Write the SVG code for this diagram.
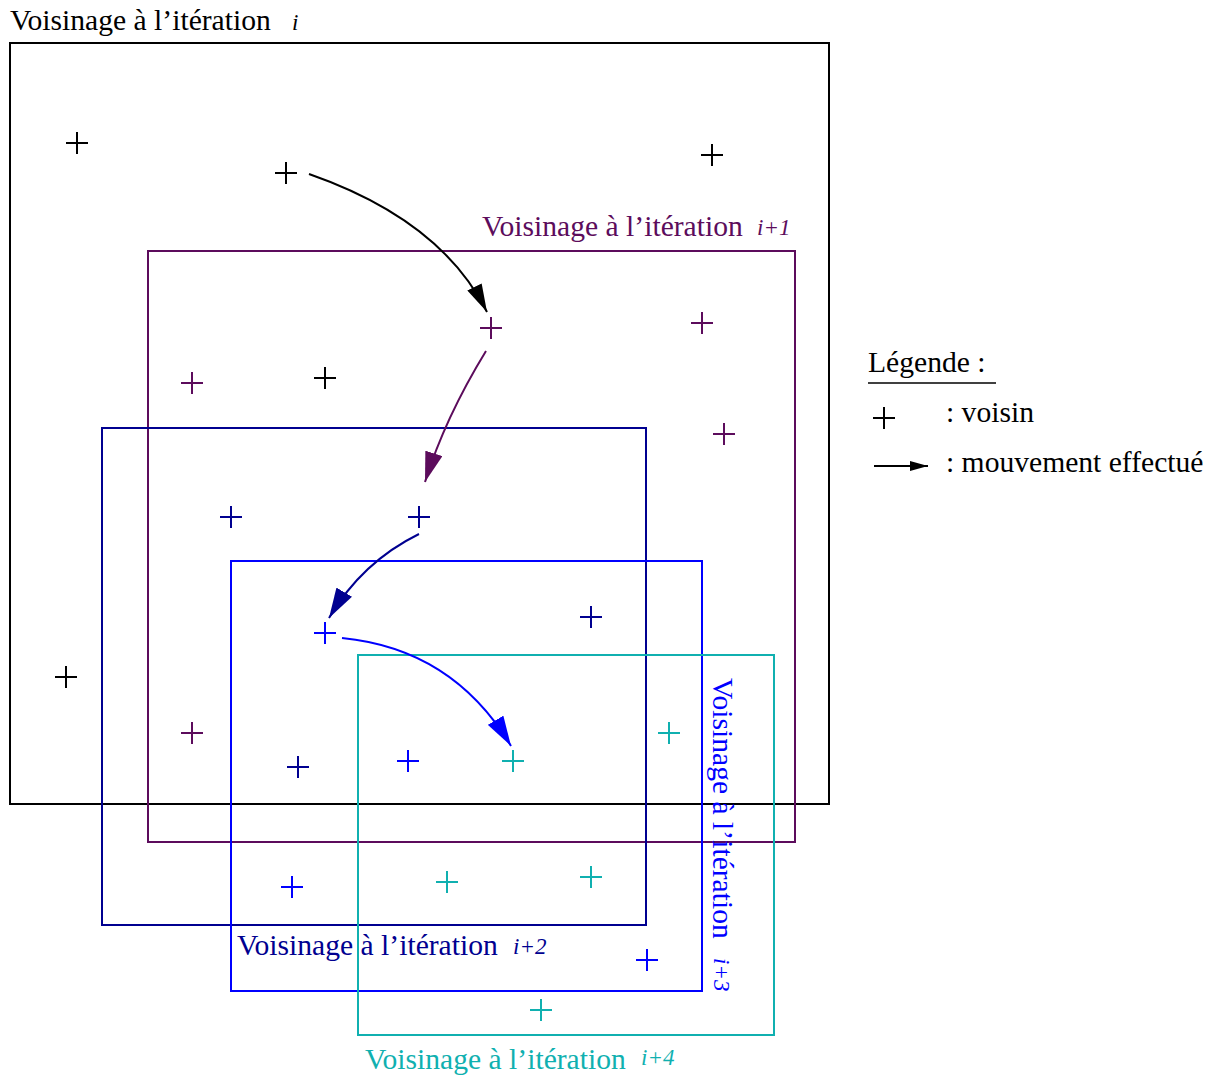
<svg xmlns="http://www.w3.org/2000/svg" width="1210" height="1079" viewBox="0 0 1210 1079">
<style>
text{font-family:"Liberation Serif","Times New Roman",serif;font-size:29.6px}
.it{font-style:italic;font-size:23px}
.box{fill:none;stroke-width:2}
.cr{stroke-width:2;fill:none}
.k{stroke:#000}.p{stroke:#5c0c5c}.n{stroke:#000090}.b{stroke:#0000ff}.c{stroke:#10b0b0}
.arr{fill:none;stroke-width:2}
</style>
<defs>
<path id="x" d="M-11 0H11M0 -11V11"/>
<marker id="mk" markerUnits="userSpaceOnUse" viewBox="0 0 28 16" markerWidth="28" markerHeight="16" refX="28" refY="8" orient="auto"><path d="M0 0L28 8L0 16Z" fill="#000"/></marker>
<marker id="mp" markerUnits="userSpaceOnUse" viewBox="0 0 30 18" markerWidth="30" markerHeight="18" refX="30" refY="9" orient="auto"><path d="M0 0L30 9L0 18Z" fill="#5c0c5c"/></marker>
<marker id="mn" markerUnits="userSpaceOnUse" viewBox="0 0 30 18" markerWidth="30" markerHeight="18" refX="30" refY="9" orient="auto"><path d="M0 0L30 9L0 18Z" fill="#000090"/></marker>
<marker id="mb" markerUnits="userSpaceOnUse" viewBox="0 0 30 18" markerWidth="30" markerHeight="18" refX="30" refY="9" orient="auto"><path d="M0 0L30 9L0 18Z" fill="#0000ff"/></marker>
<marker id="ml" markerUnits="userSpaceOnUse" viewBox="0 0 18 10" markerWidth="18" markerHeight="10" refX="18" refY="5" orient="auto"><path d="M0 0L18 5L0 10Z" fill="#000"/></marker>
</defs>

<g id="voisinage-i">
<rect class="box k" x="10" y="43" width="819" height="761"/>
<text x="10" y="30" fill="#000">Voisinage à l’itération</text>
<text class="it" x="292" y="30" fill="#000">i</text>
</g>
<g id="voisinage-i1">
<rect class="box p" x="148" y="251" width="647" height="591"/>
<text x="482" y="236" fill="#5c0c5c">Voisinage à l’itération</text>
<text class="it" x="757" y="235" fill="#5c0c5c">i+1</text>
</g>
<g id="voisinage-i2">
<rect class="box n" x="102" y="428" width="544" height="497"/>
<text x="237" y="955" fill="#000090">Voisinage à l’itération</text>
<text class="it" x="513" y="954" fill="#000090">i+2</text>
</g>
<g id="voisinage-i3">
<rect class="box b" x="231" y="561" width="471" height="430"/>
<text transform="translate(713,678) rotate(90)" x="0" y="0" fill="#0000ff">Voisinage à l’itération</text>
<text class="it" transform="translate(714,958) rotate(90)" x="0" y="0" fill="#0000ff">i+3</text>
</g>
<g id="voisinage-i4">
<rect class="box c" x="358" y="655" width="416" height="380"/>
<text x="365" y="1069" fill="#10b0b0">Voisinage à l’itération</text>
<text class="it" x="641" y="1065" fill="#10b0b0">i+4</text>
</g>

<g id="voisins">
<use href="#x" class="cr k" x="77" y="143"/>
<use href="#x" class="cr k" x="286" y="173"/>
<use href="#x" class="cr k" x="712" y="155"/>
<use href="#x" class="cr k" x="325" y="378"/>
<use href="#x" class="cr k" x="66" y="677"/>
<use href="#x" class="cr p" x="491" y="328"/>
<use href="#x" class="cr p" x="702" y="323"/>
<use href="#x" class="cr p" x="192" y="383"/>
<use href="#x" class="cr p" x="724" y="434"/>
<use href="#x" class="cr p" x="192" y="733"/>
<use href="#x" class="cr n" x="231" y="517"/>
<use href="#x" class="cr n" x="419" y="517"/>
<use href="#x" class="cr n" x="591" y="617"/>
<use href="#x" class="cr n" x="298" y="767"/>
<use href="#x" class="cr b" x="325" y="633"/>
<use href="#x" class="cr b" x="408" y="761"/>
<use href="#x" class="cr b" x="292" y="887"/>
<use href="#x" class="cr b" x="647" y="960"/>
<use href="#x" class="cr c" x="513" y="761"/>
<use href="#x" class="cr c" x="669" y="733"/>
<use href="#x" class="cr c" x="447" y="882"/>
<use href="#x" class="cr c" x="591" y="877"/>
<use href="#x" class="cr c" x="541" y="1010"/>
</g>

<g id="connecteurs">
<path class="arr" stroke="#000" d="M309 174Q441 220 487 312" marker-end="url(#mk)"/>
<path class="arr" stroke="#5c0c5c" d="M486 351Q445 418 425 482" marker-end="url(#mp)"/>
<path class="arr" stroke="#000090" d="M419 534Q362 562 329 618" marker-end="url(#mn)"/>
<path class="arr" stroke="#0000ff" d="M342 638Q453 649 511 746" marker-end="url(#mb)"/>
</g>

<g id="legende">
<text x="868" y="372" fill="#000">Légende :</text>
<line x1="868" y1="383" x2="996" y2="383" stroke="#000" stroke-width="1.5"/>
<use href="#x" class="cr k" x="884" y="418"/>
<text x="946" y="422" fill="#000">: voisin</text>
<line x1="874" y1="466" x2="928" y2="466" stroke="#000" stroke-width="2" marker-end="url(#ml)"/>
<text x="946" y="472" fill="#000">: mouvement effectué</text>
</g>
</svg>
